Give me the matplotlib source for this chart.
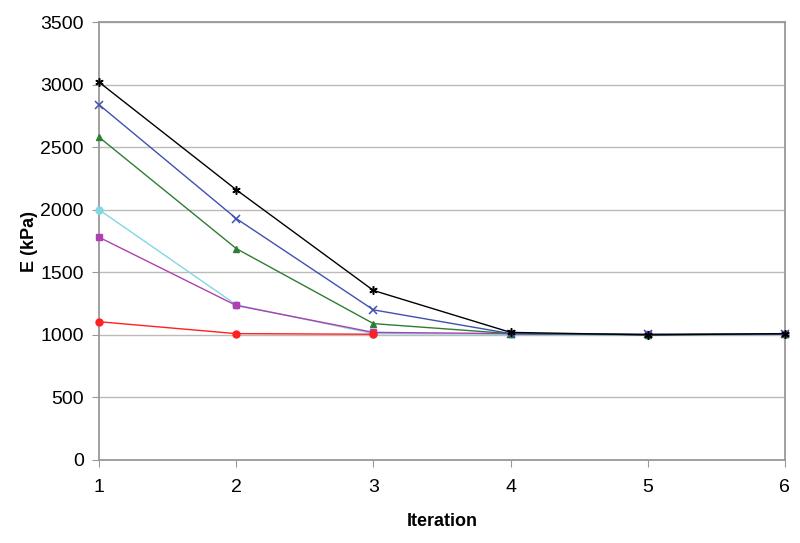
import numpy as np
import matplotlib.pyplot as plt

plt.rcParams['font.family'] = ['Liberation Sans', 'DejaVu Sans']

iteration = [1, 2, 3, 4, 5, 6]

e_black = [3020, 2160, 1355, 1020, 1000, 1010]
e_blue = [2840, 1930, 1200, 1010, 1005, 1005]
e_green = [2580, 1690, 1090, 1010, 1000, 1005]
e_cyan = [2000, 1240, 1010, 1005, 1000, 1005]
e_magenta = [1780, 1235, 1020, 1010, 1005, 1010]
e_red = [1105, 1010, 1005]

fig = plt.figure(figsize=(8, 5.43), dpi=100)
ax = fig.add_axes([0.124, 0.153, 0.857, 0.806])

kw = dict(lw=1, clip_on=False, zorder=3)
ax.plot(iteration, e_cyan, color='#80D8E0', marker='o', ms=5, **kw)
ax.plot(iteration, e_magenta, color='#B040B0', marker='s', ms=5, **kw)
ax.plot(iteration[:3], e_red, color='#FF2020', marker='o', ms=5, **kw)
ax.plot(iteration, e_green, color='#2E7D32', marker='^', ms=5, **kw)
ax.plot(iteration, e_blue, color='#4050B0', marker='x', ms=6, mew=1.1, **kw)
ax.plot(iteration, e_black, color='black', marker=(6, 2, 0), ms=6, mew=1.1, **kw)

ax.set_xlim(1, 6)
ax.set_ylim(0, 3500)
ax.set_xticks(iteration)
ax.set_yticks(np.arange(0, 3501, 500))
ax.yaxis.grid(True, color='#BBBBBB', lw=1)
ax.set_axisbelow(True)
for s in ax.spines.values():
    s.set_color('#999999')
    s.set_linewidth(1.3)
ax.tick_params(colors='#999999', labelcolor='black', labelsize=14, length=5)
ax.tick_params(axis='x', pad=9)
ax.tick_params(axis='y', pad=6)
ax.set_xlabel('Iteration', fontsize=13, fontweight='bold', labelpad=12)
ax.set_ylabel('E (kPa)', fontsize=13, fontweight='bold', labelpad=2)

fig.savefig('out.png')
